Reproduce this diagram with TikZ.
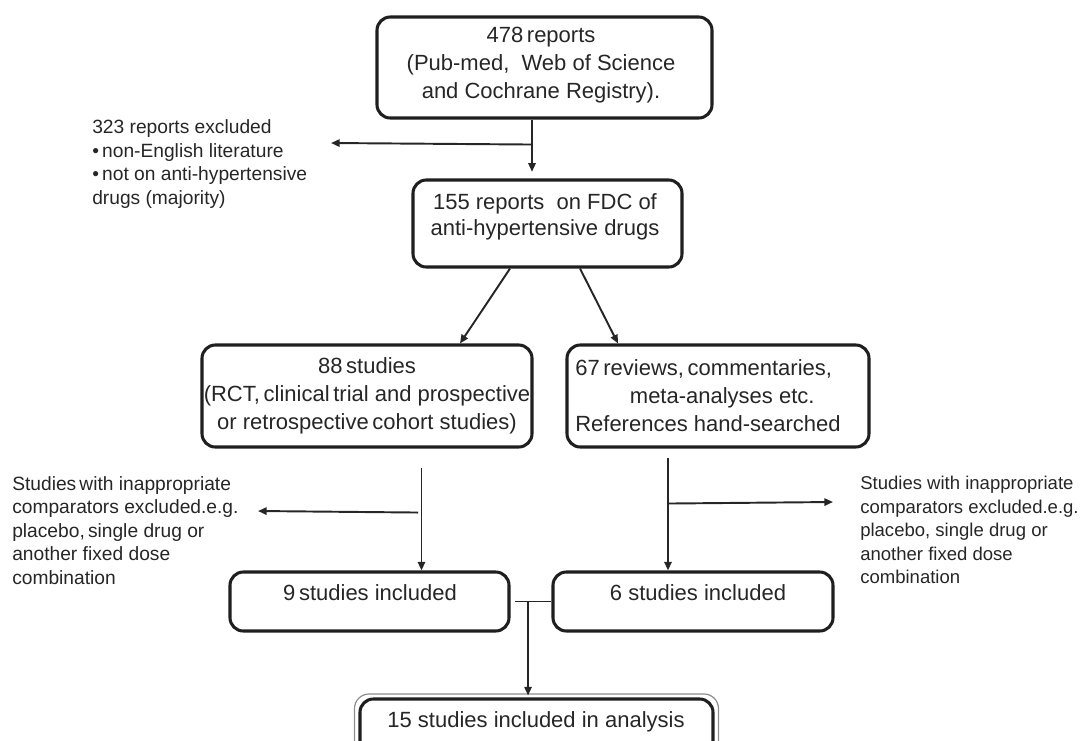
\documentclass[tikz,border=0pt]{standalone}
\usepackage{fontspec}
\setmainfont{Liberation Sans}
\usetikzlibrary{calc,arrows.meta}
\begin{document}
\begin{tikzpicture}[x=0.75pt,y=-0.75pt,
  box/.style={draw=black!88, line width=2.3pt, rounded corners=10pt, inner sep=0pt},
  conn/.style={draw=black!85, line width=1.45pt},
  arr/.style={conn, -{Triangle[length=6.5pt,width=5.5pt]}},
  btext/.style={font=\fontsize{16.5pt}{21pt}\selectfont, text=black!85, inner sep=0pt, align=center},
  stext/.style={font=\fontsize{14.4pt}{17.6pt}\selectfont, text=black!85, inner sep=0pt, align=left, anchor=north west}]
\useasboundingbox (0,0) rectangle (1083,740);
\clip (0,0) rectangle (1083,740);
% boxes
\node[box, minimum width=251.25pt, minimum height=75.75pt] (b1) at (544.5,67.5) {};
\node[box, minimum width=201.75pt, minimum height=65.25pt] (b2) at (547.5,223.5) {};
\node[box, minimum width=247.5pt, minimum height=76.5pt] (b3) at (367,396) {};
\node[box, minimum width=226.5pt, minimum height=76.5pt] (b4) at (718,396) {};
\node[box, minimum width=209.25pt, minimum height=44.25pt] (b5) at (369.5,601.5) {};
\node[box, minimum width=210pt, minimum height=44.25pt] (b6) at (693,601.5) {};
\node[box, minimum width=264.75pt, minimum height=53.25pt] (b7) at (536.5,734.5) {};
\draw[black!45, line width=0.9pt, rounded corners=11pt] ($(b7.north west)+(-4,-3.5)$) rectangle ($(b7.south east)+(4,3.5)$);
% box texts
\node[btext] (t1) at (541,65.5) {478\,reports\\(Pub-med,\ \ Web of Science\\and Cochrane Registry).};
\node[btext, font=\fontsize{16.5pt}{19.9pt}\selectfont] (t2) at (545,217) {155 reports\ \ on FDC of\\anti-hypertensive drugs};
\node[btext] (t3) at (367,395.5) {88\,studies\\(RCT,\,clinical\,trial and prospective\\or retrospective\,cohort studies)};
\node[btext, align=left, anchor=west] (t4) at (575,395.5) {67\,reviews,\,commentaries,\\\hspace*{41pt}meta-analyses etc.\\References hand-searched};
\node[btext, anchor=base] (t5) at (370,600) {9\,studies included};
\node[btext, anchor=base] (t6) at (698,600) {6 studies included};
\node[btext, anchor=base] (t7) at (536,727) {15 studies included in analysis};
% side texts
\node[stext] (e1) at (92,119.5) {323 reports excluded\\•\,non-English literature\\•\,not on anti-hypertensive\\drugs (majority)};
\node[stext] (s1) at (12,476) {Studies\,with inappropriate\\comparators excluded.e.g.\\placebo,\,single drug or\\another fixed dose\\combination};
\node[stext, font=\fontsize{13.9pt}{17.6pt}\selectfont] (s2) at (860,476) {Studies with inappropriate\\comparators excluded.e.g.\\placebo, single drug or\\another fixed dose\\combination};
% connectors
\coordinate (j1) at ($(b1.south)+(-12.5,25)$);
\coordinate (x1) at (331,143);
\draw[arr, shorten >=5pt] (b1.south -| j1) -- (j1 |- b2.north);
\draw[arr] (j1) -- (x1);
\draw[arr] ($(b2.south)+(-37.5,0)$) -- ($(b3.north)+(93,0)$);
\draw[arr] ($(b2.south)+(32.5,0)$) -- ($(b4.north)+(-100,0)$);
\coordinate (v1) at ($(b3.south)+(54.5,19)$);
\draw[arr] (v1) -- (v1 |- b5.north);
\coordinate (j2) at ($(v1)+(-3.5,45)$);
\coordinate (x2) at (258,511);
\draw[arr] (j2) -- (x2);
\coordinate (v2) at ($(b4.south)+(-50,9)$);
\draw[arr] (v2) -- (v2 |- b6.north);
\coordinate (j3) at ($(v2)+(0,46)$);
\coordinate (x3) at (833,502);
\draw[arr] (j3) -- (x3);
\coordinate (j4) at ($(b5.east)+(17.5,0)$);
\draw[conn] ($(b5.east)+(4,0)$) -- (b6.west);
\draw[arr] (j4) -- ($(j4 |- b7.north)+(0,-2)$);
\end{tikzpicture}
\end{document}
